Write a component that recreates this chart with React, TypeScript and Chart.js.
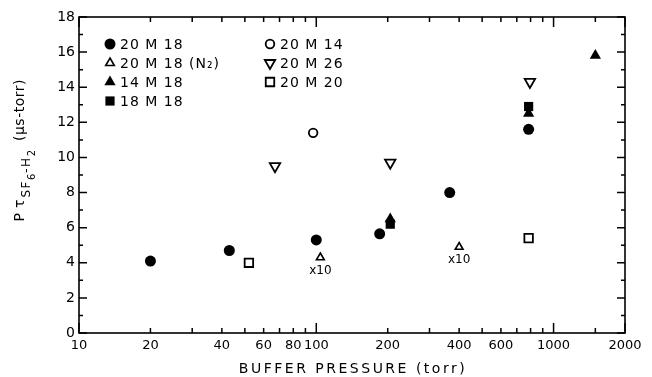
import React, { useEffect, useRef } from 'react';
import { Chart, registerables } from 'chart.js';
import { drawPoint } from 'chart.js/helpers';

Chart.register(...registerables);

// ---- Data (x: buffer pressure, torr; y: P·tau, µs-torr) ----
const s20M18X = [20, 43, 100, 185, 365, 785];
const s20M18Y = [4.1, 4.7, 5.3, 5.65, 8.0, 11.6];
const s20M18N2X = [104, 400];
const s20M18N2Y = [4.3, 4.9];
const s14M18X = [205, 785, 1500];
const s14M18Y = [6.5, 12.5, 15.8];
const s18M18X = [205, 785];
const s18M18Y = [6.2, 12.9];
const s20M14X = [97];
const s20M14Y = [11.4];
const s20M26X = [67, 205, 795];
const s20M26Y = [9.5, 9.7, 14.3];
const s20M20X = [52, 785];
const s20M20Y = [4.0, 5.4];

const seriesLabels = ['20 M 18', '20 M 18 (N₂)', '14 M 18', '18 M 18', '20 M 14', '20 M 26', '20 M 20'];
const n2Note = 'x10';

// ---- Axis ticks ----
const xTickLabels = [10, 20, 40, 60, 80, 100, 200, 400, 600, 1000, 2000];
const xMinorTicks = [20, 30, 40, 50, 60, 70, 80, 90, 200, 300, 400, 500, 600, 700, 800, 900, 1500];
const xMajorTicks = [10, 100, 1000, 2000];
const yTickLabels = [0, 2, 4, 6, 8, 10, 12, 14, 16, 18];
const yMinorTicks = [1, 3, 5, 7, 9, 11, 13, 15, 17];
const xTitle = 'BUFFER PRESSURE (torr)';

const FONT = '"DejaVu Sans", "Noto Sans", sans-serif';

function pts(xs: number[], ys: number[]) {
  return xs.map((x, i) => ({ x, y: ys[i] }));
}

const framePlugin = {
  id: 'frameTicks',
  afterDraw(chart: any) {
    const { ctx, chartArea: a, scales } = chart;
    const xs = scales.x;
    const ys = scales.y;
    ctx.save();
    ctx.strokeStyle = '#000';
    ctx.lineWidth = 1.6;
    ctx.strokeRect(a.left, a.top, a.right - a.left, a.bottom - a.top);
    ctx.lineWidth = 1.5;
    ctx.beginPath();
    const xt = (v: number, len: number) => {
      const p = xs.getPixelForValue(v);
      ctx.moveTo(p, a.bottom);
      ctx.lineTo(p, a.bottom - len);
      ctx.moveTo(p, a.top);
      ctx.lineTo(p, a.top + len);
    };
    xMinorTicks.forEach((v) => xt(v, 5));
    xMajorTicks.forEach((v) => xt(v, 10));
    const yt = (v: number, len: number) => {
      const p = ys.getPixelForValue(v);
      ctx.moveTo(a.left, p);
      ctx.lineTo(a.left + len, p);
      ctx.moveTo(a.right, p);
      ctx.lineTo(a.right - len, p);
    };
    yMinorTicks.forEach((v) => yt(v, 4));
    yTickLabels.forEach((v) => yt(v, 8));
    ctx.stroke();
    ctx.restore();
  },
};

const legendPlugin = {
  id: 'inLegend',
  afterDraw(chart: any) {
    const { ctx } = chart;
    ctx.save();
    const cols = [{ mx: 110, tx: 120 }, { mx: 270, tx: 280 }];
    const rowY = [44, 63, 82, 101];
    chart.data.datasets.forEach((ds: any, i: number) => {
      const col = i < 4 ? 0 : 1;
      const row = i < 4 ? i : i - 4;
      const c = cols[col];
      const yy = rowY[row];
      ctx.fillStyle = ds.backgroundColor;
      ctx.strokeStyle = ds.borderColor;
      ctx.lineWidth = ds.borderWidth;
      drawPoint(ctx, {
        pointStyle: ds.pointStyle,
        rotation: ds.rotation || 0,
        radius: ds.legendRadius || ds.pointRadius,
        borderWidth: ds.borderWidth,
      }, c.mx, yy);
      ctx.fillStyle = '#000';
      ctx.font = `14px ${FONT}`;
      (ctx as any).letterSpacing = '1px';
      ctx.textBaseline = 'middle';
      ctx.textAlign = 'left';
      ctx.fillText(ds.label, c.tx, yy + 1);
    });
    ctx.restore();
  },
};

const notesPlugin = {
  id: 'n2Notes',
  afterDatasetsDraw(chart: any) {
    const { ctx } = chart;
    const meta = chart.getDatasetMeta(1);
    ctx.save();
    ctx.fillStyle = '#000';
    ctx.font = `12px ${FONT}`;
    ctx.textAlign = 'center';
    ctx.textBaseline = 'middle';
    meta.data.forEach((el: any) => {
      ctx.fillText(n2Note, el.x, el.y + 13);
    });
    ctx.restore();
  },
};

const titlesPlugin = {
  id: 'axisTitles',
  afterDraw(chart: any) {
    const { ctx, chartArea: a } = chart;
    ctx.save();
    ctx.fillStyle = '#000';
    // x title
    ctx.font = `14px ${FONT}`;
    (ctx as any).letterSpacing = '2.5px';
    ctx.textAlign = 'center';
    ctx.textBaseline = 'alphabetic';
    ctx.fillText(xTitle, (a.left + a.right) / 2 + 1, 373);

    // y title (rotated, with subscripts)
    const segs = [
      { t: 'P', s: 14, dv: 0, gap: 5, ls: 0 },
      { t: 'τ', s: 14, dv: 0, gap: 2, ls: 0 },
      { t: 'SF', s: 12, dv: 6, gap: 0, ls: 1.5 },
      { t: '6', s: 10, dv: 11, gap: 1, ls: 0 },
      { t: '-H', s: 12, dv: 6, gap: 0, ls: 1.5 },
      { t: '2', s: 10, dv: 11, gap: 9, ls: 0 },
      { t: '(μs-torr)', s: 14, dv: 0, gap: 0, ls: 0.5 },
    ];
    let total = 0;
    const widths = segs.map((g) => {
      ctx.font = `${g.s}px ${FONT}`;
      (ctx as any).letterSpacing = `${g.ls}px`;
      const w = ctx.measureText(g.t).width;
      total += w + g.gap;
      return w;
    });
    const endY = 79;
    ctx.translate(24, endY + total);
    ctx.rotate(-Math.PI / 2);
    ctx.textAlign = 'left';
    let u = 0;
    segs.forEach((g, i) => {
      ctx.font = `${g.s}px ${FONT}`;
      (ctx as any).letterSpacing = `${g.ls}px`;
      ctx.fillText(g.t, u, g.dv);
      u += widths[i] + g.gap;
    });
    ctx.restore();
  },
};

export default function App() {
  const ref = useRef<HTMLCanvasElement | null>(null);
  useEffect(() => {
    if (!ref.current) return;
    const black = '#000';
    const white = '#fff';
    const chart = new Chart(ref.current, {
      type: 'scatter',
      data: {
        datasets: [
          { label: seriesLabels[0], data: pts(s20M18X, s20M18Y), pointStyle: 'circle', pointRadius: 5.5, backgroundColor: black, borderColor: black, borderWidth: 0 } as any,
          { label: seriesLabels[1], data: pts(s20M18N2X, s20M18N2Y), pointStyle: 'triangle', pointRadius: 4.5, legendRadius: 5, backgroundColor: white, borderColor: black, borderWidth: 1.6 } as any,
          { label: seriesLabels[2], data: pts(s14M18X, s14M18Y), pointStyle: 'triangle', pointRadius: 6.5, backgroundColor: black, borderColor: black, borderWidth: 0 } as any,
          { label: seriesLabels[3], data: pts(s18M18X, s18M18Y), pointStyle: 'rect', pointRadius: 6.5, backgroundColor: black, borderColor: black, borderWidth: 0 } as any,
          { label: seriesLabels[4], data: pts(s20M14X, s20M14Y), pointStyle: 'circle', pointRadius: 4.3, backgroundColor: white, borderColor: black, borderWidth: 1.8 } as any,
          { label: seriesLabels[5], data: pts(s20M26X, s20M26Y), pointStyle: 'triangle', rotation: 180, pointRadius: 6, backgroundColor: white, borderColor: black, borderWidth: 1.8 } as any,
          { label: seriesLabels[6], data: pts(s20M20X, s20M20Y), pointStyle: 'rect', pointRadius: 6, backgroundColor: white, borderColor: black, borderWidth: 1.8 } as any,
        ],
      },
      options: {
        responsive: false,
        animation: false,
        events: [],
        layout: { padding: { left: 0, right: 27, top: 17, bottom: 0 } },
        plugins: { legend: { display: false }, tooltip: { enabled: false }, title: { display: false } },
        elements: { point: { hoverRadius: 0 } },
        scales: {
          x: {
            type: 'logarithmic',
            min: 10,
            max: 2000,
            grid: { display: false, drawTicks: false },
            border: { display: false },
            ticks: {
              autoSkip: false,
              maxRotation: 0,
              minRotation: 0,
              padding: 5,
              color: black,
              font: { family: FONT, size: 13 },
              callback: (v: any) => String(v),
            },
            afterBuildTicks: (s: any) => {
              s.ticks = xTickLabels.map((v) => ({ value: v }));
            },
            afterFit: (s: any) => {
              s.height = 44;
            },
          },
          y: {
            type: 'linear',
            min: 0,
            max: 18,
            grid: { display: false, drawTicks: false },
            border: { display: false },
            ticks: {
              padding: 4,
              color: black,
              font: { family: FONT, size: 14 },
              callback: (v: any) => String(v),
            },
            afterBuildTicks: (s: any) => {
              s.ticks = yTickLabels.map((v) => ({ value: v }));
            },
            afterFit: (s: any) => {
              s.width = 79;
            },
          },
        },
      } as any,
      plugins: [framePlugin, legendPlugin, notesPlugin, titlesPlugin],
    });
    return () => chart.destroy();
  }, []);
  return (
    <div style={{ position: 'absolute', left: 0, top: 0, width: 652, height: 377, background: '#fff' }}>
      <canvas ref={ref} width={652} height={377} style={{ display: 'block' }} />
    </div>
  );
}
